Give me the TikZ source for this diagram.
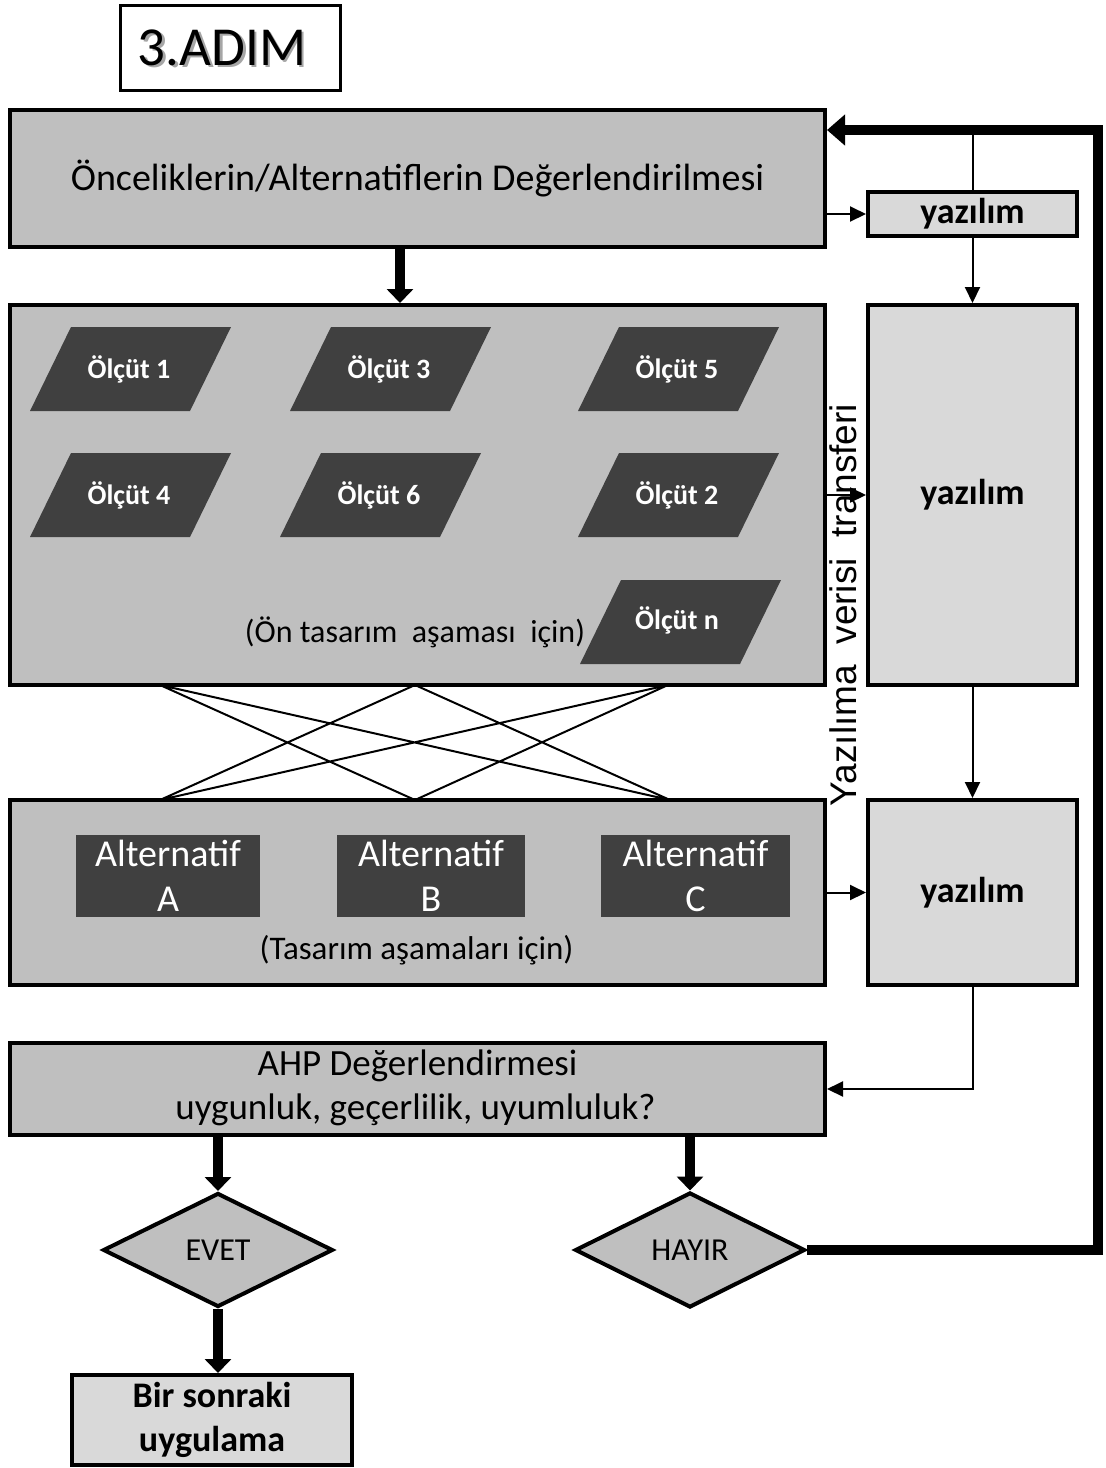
\documentclass[tikz,border=0pt]{standalone}
\usepackage{fontspec}
\setmainfont{Carlito}
\newfontfamily\arialfont{Liberation Sans}
\usetikzlibrary{arrows.meta,shapes.geometric,calc}
\definecolor{boxgray}{HTML}{BFBFBF}
\definecolor{softgray}{HTML}{D9D9D9}
\definecolor{darkbox}{HTML}{404040}
\newcommand{\fsz}[2]{\fontsize{#1}{#2}\selectfont}
\tikzset{
  panel/.style={draw, line width=4pt, fill=boxgray, inner sep=0pt},
  softbox/.style={draw, line width=4pt, fill=softgray, inner sep=0pt, font=\bfseries\fsz{36}{40}},
  darktile/.style={fill=darkbox, text=white, inner sep=0pt, align=center, font=\fsz{38}{45}},
  crittext/.style={text=white, font=\bfseries\fsz{28}{32}},
  decision/.style={diamond, draw, line width=4pt, fill=boxgray, inner sep=0pt, aspect=2, font=\fsz{32}{36}},
  thinarrow/.style={line width=2pt, -{Triangle[length=16pt,width=15pt]}},
  thickarrow/.style={line width=10pt, -{Triangle[length=14pt,width=26pt]}},
  loopline/.style={line width=10pt, -{Triangle[length=18pt,width=30pt]}},
  cross/.style={line width=2pt}
}
\begin{document}
\begin{tikzpicture}[x=1pt,y=-1pt]
\useasboundingbox (0,0) rectangle (1106,1468);

% step title with its soft shadow
\node[draw, line width=3pt, minimum width=220pt, minimum height=85pt, inner sep=0pt] (titlebox) at (230,47.5) {};
\node[text=black!35, font=\fsz{55}{60}] (titleshadow) at (224.5,50) {3.ADIM};
\node[font=\fsz{55}{60}] (title) at (222,47.5) {3.ADIM};

% main panels
\node[panel, minimum width=815pt, minimum height=137pt, font=\fsz{38}{42}] (top) at (417.5,178.5) {Önceliklerin/Alternatiflerin Değerlendirilmesi};
\node[panel, minimum width=815pt, minimum height=380pt] (crit) at (417.5,495) {};
\node[panel, minimum width=815pt, minimum height=185pt] (alt) at (417.5,892.5) {};
\node[panel, minimum width=815pt, minimum height=92pt] (ahp) at (417.5,1089) {};
\node[font=\fsz{37}{40}] (ahp1) at (417.5,1066) {AHP Değerlendirmesi};
\node[font=\fsz{37}{40}] (ahp2) at (415.5,1110) {uygunluk, geçerlilik, uyumluluk?};

% software boxes
\node[softbox, minimum width=209pt, minimum height=44pt] (yz1) at (972.5,214) {yazılım};
\node[softbox, minimum width=209pt, minimum height=380pt] (yz2) at (972.5,495) {};
\node[font=\bfseries\fsz{36}{40}] (yz2t) at (972.5,495) {yazılım};
\node[softbox, minimum width=209pt, minimum height=185pt] (yz3) at (972.5,892.5) {yazılım};

% criteria tiles
\fill[darkbox] (71,327) -- (231,327) -- (190,411) -- (30,411) -- cycle;
\node[crittext] (c1) at (129,369) {Ölçüt 1};
\fill[darkbox] (331,327) -- (491,327) -- (450,411) -- (290,411) -- cycle;
\node[crittext] (c3) at (389,369) {Ölçüt 3};
\fill[darkbox] (619,327) -- (779,327) -- (738,411) -- (578,411) -- cycle;
\node[crittext] (c5) at (677,369) {Ölçüt 5};
\fill[darkbox] (71,453) -- (231,453) -- (190,537) -- (30,537) -- cycle;
\node[crittext] (c4) at (129,495) {Ölçüt 4};
\fill[darkbox] (321,453) -- (481,453) -- (440,537) -- (280,537) -- cycle;
\node[crittext] (c6) at (379,495) {Ölçüt 6};
\fill[darkbox] (619,453) -- (779,453) -- (738,537) -- (578,537) -- cycle;
\node[crittext] (c2) at (677,495) {Ölçüt 2};
\fill[darkbox] (621,580) -- (781,580) -- (740,664) -- (580,664) -- cycle;
\node[crittext] (cn) at (677,620) {Ölçüt n};
\node[font=\fsz{32}{36}] (prelim) at (415,632) {(Ön tasarım\ \ aşaması\ \ için)};

% design alternatives
\node[darktile, minimum width=184pt, minimum height=82pt] (altA) at (168,876) {Alternatif\\A};
\node[darktile, minimum width=188pt, minimum height=82pt] (altB) at (431,876) {Alternatif\\B};
\node[darktile, minimum width=189pt, minimum height=82pt] (altC) at (695.5,876) {Alternatif\\C};
\node[font=\fsz{33}{36}] (design) at (416.5,950) {(Tasarım aşamaları için)};

% decisions and next step
\node[decision, minimum width=230pt, minimum height=114pt] (evet) at (218,1250) {EVET};
\node[decision, minimum width=230pt, minimum height=115pt] (hayir) at (690,1250) {HAYIR};
\node[draw, line width=4pt, fill=softgray, minimum width=280pt, minimum height=90pt, inner sep=0pt, align=center, font=\bfseries\fsz{36}{44}] (next) at (212,1420) {Bir sonraki\\uygulama};

% vertical caption between the panels and the software boxes
\node[rotate=90, font=\arialfont\fsz{37}{40}] (transfer) at (843,605) {Yazılıma\ \ verisi\ \ transferi};

% criteria-to-alternative links
\coordinate (t1) at (160,685); \coordinate (t2) at (415,685); \coordinate (t3) at (668,685);
\coordinate (b1) at (160,800); \coordinate (b2) at (415,800); \coordinate (b3) at (670,800);
\draw[cross] (t1) -- (b2) (t1) -- (b3) (t2) -- (b1) (t2) -- (b3) (t3) -- (b1) (t3) -- (b2);

% flow arrows
\coordinate (ax) at (400,0);
\draw[thickarrow] (top.south -| ax) -- (crit.north -| ax);
\draw[thinarrow] (top.east |- yz1.west) -- (yz1.west);
\draw[thinarrow] (yz1.south) -- (yz2.north);
\draw[thinarrow] (crit.east |- yz2.west) -- (yz2.west);
\draw[thinarrow] (yz2.south) -- (yz3.north);
\draw[thinarrow] (alt.east |- yz3.west) -- (yz3.west);
\draw[thinarrow] (yz3.south) |- (ahp.east);
\draw[thickarrow] (ahp.south -| evet.north) -- (evet.north);
\draw[thickarrow] (ahp.south -| hayir.north) -- (hayir.north);
\draw[thickarrow] (evet.south) -- (next.north -| evet.south);

% feedback loop back to the evaluation step
\coordinate (loopc) at (1098,130);
\draw[line width=2pt] (yz1.north |- loopc) -- (yz1.north);
\draw[loopline] (hayir.east) -| (loopc) -- (top.east |- loopc);
\end{tikzpicture}
\end{document}
